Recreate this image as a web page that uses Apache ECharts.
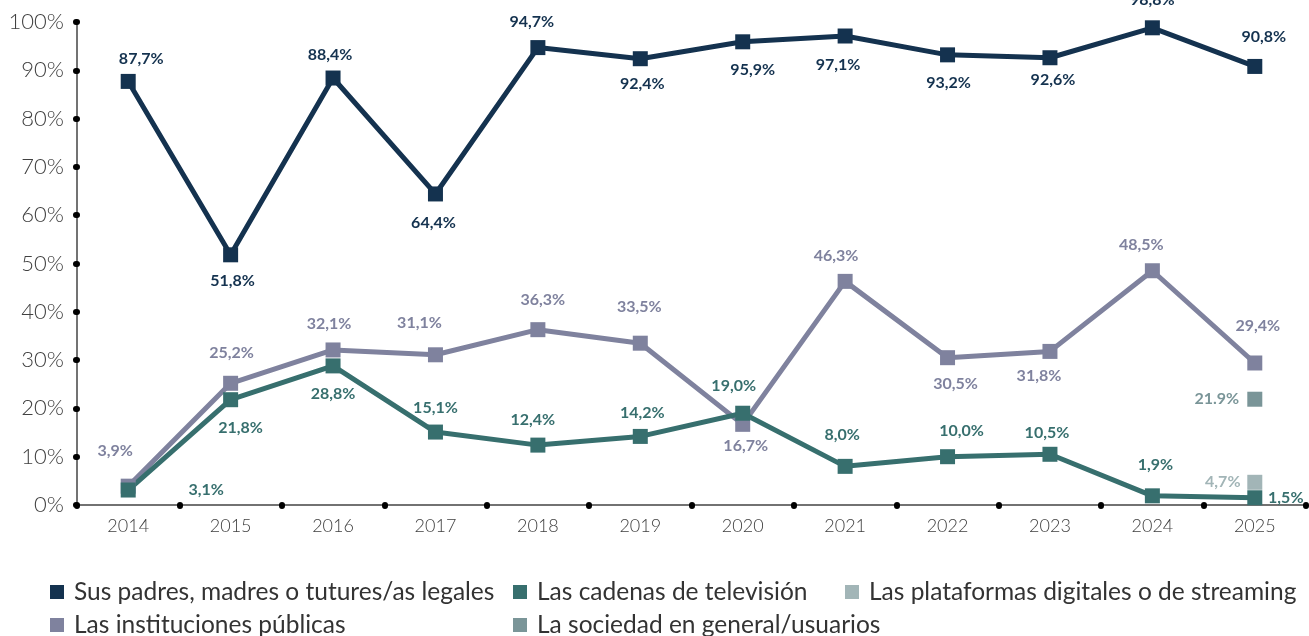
<!DOCTYPE html>
<html lang="es">
<head>
<meta charset="utf-8">
<title>Responsables de la protección de menores</title>
<script src="https://cdn.jsdelivr.net/npm/echarts@6/dist/echarts.min.js"></script>
<style>
  html, body { margin: 0; padding: 0; background: #ffffff; }
  #chart { width: 1309px; height: 636px; }
</style>
</head>
<body>
<div id="chart"></div>
<script>
// ---- Data ----
const years = ['2014', '2015', '2016', '2017', '2018', '2019', '2020', '2021', '2022', '2023', '2024', '2025'];

const padres        = [87.7, 51.8, 88.4, 64.4, 94.7, 92.4, 95.9, 97.1, 93.2, 92.6, 98.8, 90.8];
const television    = [3.1, 21.8, 28.8, 15.1, 12.4, 14.2, 19.0, 8.0, 10.0, 10.5, 1.9, 1.5];
const instituciones = [3.9, 25.2, 32.1, 31.1, 36.3, 33.5, 16.7, 46.3, 30.5, 31.8, 48.5, 29.4];
const plataformas   = [null, null, null, null, null, null, null, null, null, null, null, 4.7];
const sociedad      = [null, null, null, null, null, null, null, null, null, null, null, 21.9];

const yTicks = [0, 10, 20, 30, 40, 50, 60, 70, 80, 90, 100];

const names = {
  padres: 'Sus padres, madres o tutures/as legales',
  television: 'Las cadenas de televisión',
  plataformas: 'Las plataformas digitales o de streaming',
  instituciones: 'Las instituciones públicas',
  sociedad: 'La sociedad en general/usuarios'
};

// ---- Styling ----
const colors = {
  padres: '#14324f',
  television: '#376f6e',
  instituciones: '#7f829e',
  plataformas: '#a2b5b7',
  sociedad: '#7a9598'
};

// Value-label placement relative to each marker (px)
const padresLabelOffset = [[13, -23], [2, 26], [-3, -23], [-2, 29], [-6, -26], [2, 25], [10, 28], [-7, 29], [1, 28], [3, 22], [0, -28], [9, -30]];
const televisionLabelOffset = [[78, 0], [10, 28], [0, 28], [0, -24], [-5, -25], [2, -24], [-9, -27], [-3, -32], [14, -26], [-3, -21], [3, -31], [31, 0]];
const institucionesLabelOffset = [[-13, -35], [1, -30], [-4, -26], [-16, -32], [5, -30], [-1, -36], [3, 22], [-9, -26], [8, 26], [-11, 24], [-11, -26], [3, -37]];
const plataformasLabelOffset = [-32, 0];
const sociedadLabelOffset = [-38, 0];

const FONT = 'Lato, "Noto Sans", sans-serif';

const commaPct = v => v.toFixed(1).replace('.', ',') + '%';
const dotPct = v => v.toFixed(1) + '%';

function lineSeries(name, values, color, offsets, fmt) {
  return {
    name: name,
    type: 'line',
    data: values.map((v, i) => ({
      value: v,
      label: { offset: offsets[i] }
    })),
    symbol: 'rect',
    symbolSize: 15,
    lineStyle: { width: 5, color: color },
    itemStyle: { color: color },
    label: {
      show: true,
      position: 'inside',
      color: color,
      fontFamily: FONT,
      fontWeight: 'bold',
      fontSize: 16,
      formatter: p => fmt(p.value)
    },
    emphasis: { disabled: true },
    animation: false
  };
}

function singlePointSeries(name, values, color, offset, fmt) {
  return {
    name: name,
    type: 'line',
    data: values,
    symbol: 'rect',
    symbolSize: 15,
    lineStyle: { width: 0 },
    itemStyle: { color: color },
    label: {
      show: true,
      position: 'inside',
      offset: offset,
      color: color,
      fontFamily: FONT,
      fontWeight: 'bold',
      fontSize: 16,
      formatter: p => fmt(p.value)
    },
    emphasis: { disabled: true },
    animation: false
  };
}

function legendItem(name, left, top) {
  return {
    data: [name],
    left: left,
    top: top,
    padding: 0,
    icon: 'rect',
    itemWidth: 14,
    itemHeight: 14,
    selectedMode: false,
    textStyle: {
      fontFamily: FONT,
      fontSize: 24.5,
      lineHeight: 26,
      color: '#333333',
      padding: [0, 0, 0, 5]
    }
  };
}

const dotTick = {
  show: true,
  length: 1,
  lineStyle: { color: '#000000', width: 6, cap: 'round' }
};

const chart = echarts.init(document.getElementById('chart'), null, { renderer: 'canvas' });

chart.setOption({
  backgroundColor: '#ffffff',
  animation: false,
  grid: { left: 77, right: 3, top: 22, bottom: 131, containLabel: false },
  legend: [
    legendItem(names.padres, 50, 579),
    legendItem(names.television, 513, 579),
    legendItem(names.plataformas, 845, 579),
    legendItem(names.instituciones, 50, 612),
    legendItem(names.sociedad, 513, 612)
  ],
  xAxis: {
    type: 'category',
    data: years,
    boundaryGap: true,
    axisLine: { show: true, lineStyle: { color: '#444444', width: 1.5 } },
    axisTick: Object.assign({ interval: 0 }, dotTick),
    axisLabel: {
      margin: 12,
      fontFamily: FONT,
      fontWeight: 300,
      fontSize: 18,
      color: '#404040'
    },
    splitLine: { show: false }
  },
  yAxis: {
    type: 'value',
    min: yTicks[0],
    max: yTicks[yTicks.length - 1],
    interval: yTicks[1] - yTicks[0],
    axisLine: { show: true, lineStyle: { color: '#444444', width: 1.5 } },
    axisTick: dotTick,
    axisLabel: {
      margin: 13,
      fontFamily: FONT,
      fontWeight: 300,
      fontSize: 22,
      color: '#404040',
      formatter: '{value}%'
    },
    splitLine: { show: false }
  },
  series: [
    lineSeries(names.padres, padres, colors.padres, padresLabelOffset, commaPct),
    lineSeries(names.instituciones, instituciones, colors.instituciones, institucionesLabelOffset, commaPct),
    lineSeries(names.television, television, colors.television, televisionLabelOffset, commaPct),
    singlePointSeries(names.plataformas, plataformas, colors.plataformas, plataformasLabelOffset, commaPct),
    singlePointSeries(names.sociedad, sociedad, colors.sociedad, sociedadLabelOffset, dotPct)
  ]
});
</script>
</body>
</html>
